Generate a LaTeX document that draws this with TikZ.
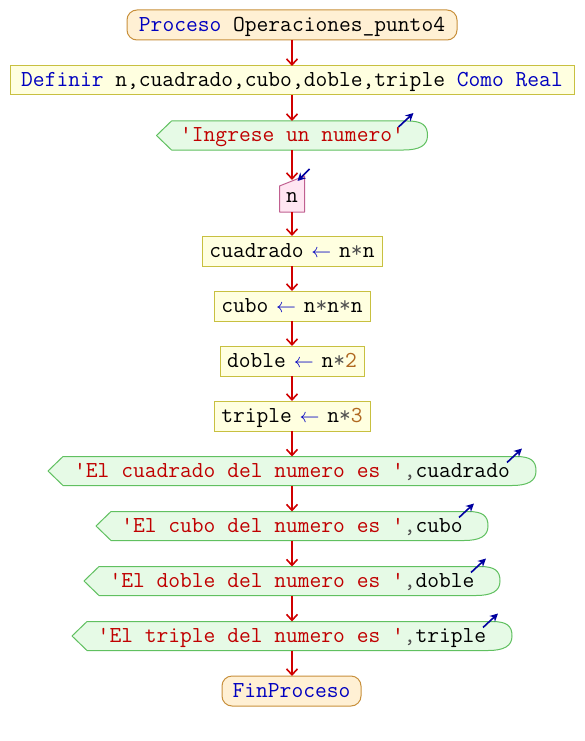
\documentclass[tikz,border=0pt]{standalone}
\usepackage{fontspec}
\usetikzlibrary{arrows.meta,backgrounds}
\definecolor{kwblue}{HTML}{0000C0}
\definecolor{strred}{HTML}{C00000}
\definecolor{numbrown}{HTML}{B06820}
\definecolor{opgray}{HTML}{505050}
\definecolor{termfill}{HTML}{FFF0D4}
\definecolor{termdraw}{HTML}{C8903C}
\definecolor{asgfill}{HTML}{FFFFE0}
\definecolor{asgdraw}{HTML}{C8C040}
\definecolor{outfill}{HTML}{E6FAE6}
\definecolor{outdraw}{HTML}{60C060}
\definecolor{infill}{HTML}{FFE6F2}
\definecolor{indraw}{HTML}{C06090}
\definecolor{flowred}{HTML}{D00000}
\definecolor{ioblue}{HTML}{0000A0}
\newcommand{\kw}[1]{\textcolor{kwblue}{#1}}
\newcommand{\strtxt}[1]{\textcolor{strred}{#1}}
\newcommand{\numtxt}[1]{\textcolor{numbrown}{#1}}
\newcommand{\optxt}[1]{\textcolor{opgray}{#1}}
\newcommand{\asgarrow}{\makebox[12pt]{\textcolor{kwblue}{\scalebox{0.8}{$\leftarrow$}}}}
\newcommand{\outshape}[1]{%
  \filldraw[draw=outdraw, fill=outfill, line width=1pt, line join=round]
    ([xshift=15pt]#1.north west) -- ([xshift=-20pt]#1.north east)
    .. controls ([xshift=-5pt]#1.north east) and ([yshift=10pt]#1.east) .. (#1.east)
    .. controls ([yshift=-10pt]#1.east) and ([xshift=-8pt]#1.south east) .. ([xshift=-24pt]#1.south east)
    -- ([xshift=15pt]#1.south west) -- (#1.west) -- cycle;}
\newcommand{\outarrow}[1]{%
  \draw[ioarrow] ([xshift=-29pt,yshift=-6pt]#1.north east) -- ([xshift=-14pt,yshift=8pt]#1.north east);}
\tikzset{
  base/.style={font=\fontsize{22.86}{24}\selectfont\ttfamily, inner sep=0pt, outer sep=0pt,
    text height=16pt, text depth=3pt},
  term/.style={base, draw=termdraw, fill=termfill, rounded corners=10pt, line width=1pt},
  asg/.style={base, draw=asgdraw, fill=asgfill, line width=1pt},
  outn/.style={base, minimum height=29pt},
  flow/.style={draw=flowred, line width=1.6pt, -{Straight Barb[length=6pt,width=11pt]}},
  ioarrow/.style={draw=ioblue, line width=1.6pt, -{Stealth[length=8pt,width=8pt]}},
}
\begin{document}
\begin{tikzpicture}[x=1pt,y=-1pt]
\useasboundingbox (0,0) rectangle (584,741);

\node[term, minimum width=330pt, minimum height=30pt] (start) at (292,25)
  {\kw{Proceso} Operaciones\_punto4};
\node[asg, minimum width=564pt, minimum height=29pt] (def) at (292,80.5)
  {\kw{Definir} n,cuadrado,cubo,doble,triple \kw{Como Real}};
\node[outn, minimum width=271pt] (o1) at (292,135.5)
  {\strtxt{\textquotesingle Ingrese un numero\textquotesingle}};
\node[base, minimum width=25pt, minimum height=36pt] (in) at (292,194)
  {\raisebox{-2pt}{n}};
\node[asg, minimum width=180pt, minimum height=30pt] (a1) at (292,251)
  {cuadrado \asgarrow{} n\optxt{*}n};
\node[asg, minimum width=156pt, minimum height=30pt] (a2) at (292,306)
  {cubo \asgarrow{} n\optxt{*}n\optxt{*}n};
\node[asg, minimum width=144pt, minimum height=30pt] (a3) at (292,361)
  {doble \asgarrow{} n\optxt{*}\numtxt{2}};
\node[asg, minimum width=156pt, minimum height=30pt] (a4) at (292,416)
  {triple \asgarrow{} n\optxt{*}\numtxt{3}};
\node[outn, minimum width=488pt] (o2) at (292,471)
  {\strtxt{\textquotesingle El cuadrado del numero es \textquotesingle}\optxt{,}cuadrado};
\node[outn, minimum width=392pt] (o3) at (292,526)
  {\strtxt{\textquotesingle El cubo del numero es \textquotesingle}\optxt{,}cubo};
\node[outn, minimum width=416pt] (o4) at (292,581)
  {\strtxt{\textquotesingle El doble del numero es \textquotesingle}\optxt{,}doble};
\node[outn, minimum width=440pt] (o5) at (292,636)
  {\strtxt{\textquotesingle El triple del numero es \textquotesingle}\optxt{,}triple};
\node[term, minimum width=139pt, minimum height=30pt] (end) at (291.5,691)
  {\kw{FinProceso}};

\begin{scope}[on background layer]
  \fill[white] (0,0) rectangle (584,741);
  \outshape{o1}
  \outshape{o2}
  \outshape{o3}
  \outshape{o4}
  \outshape{o5}
  \filldraw[draw=indraw, fill=infill, line width=1pt, line join=round]
    (in.south west) -- (in.south east) -- (in.north east) -- ([yshift=-10pt]in.north west) -- cycle;
\end{scope}

\draw[flow] (start.south) -- (def.north);
\draw[flow] (def.south) -- (o1.north);
\draw[flow] (o1.south) -- ([yshift=-4pt]in.north);
\draw[flow] (in.south) -- (a1.north);
\draw[flow] (a1.south) -- (a2.north);
\draw[flow] (a2.south) -- (a3.north);
\draw[flow] (a3.south) -- (a4.north);
\draw[flow] (a4.south) -- (o2.north);
\draw[flow] (o2.south) -- (o3.north);
\draw[flow] (o3.south) -- (o4.north);
\draw[flow] (o4.south) -- (o5.north);
\draw[flow] (o5.south) -- (end.north -| o5.south);

\outarrow{o1}
\outarrow{o2}
\outarrow{o3}
\outarrow{o4}
\outarrow{o5}
\draw[ioarrow] ([xshift=5pt,yshift=7pt]in.north east) -- ([xshift=-7pt,yshift=-5pt]in.north east);
\end{tikzpicture}
\end{document}
